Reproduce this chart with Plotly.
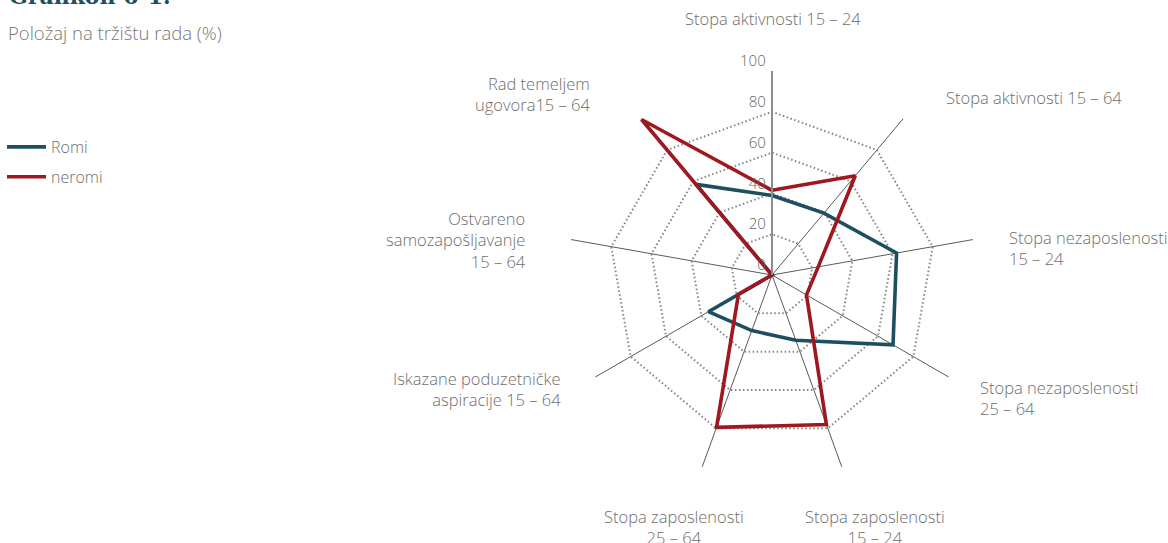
import plotly.graph_objects as go

categories = [
    "Stopa aktivnosti 15 – 24",
    "Stopa aktivnosti 15 – 64",
    "Stopa nezaposlenosti 15 – 24",
    "Stopa nezaposlenosti 25 – 64",
    "Stopa zaposlenosti 15 – 24",
    "Stopa zaposlenosti 25 – 64",
    "Iskazane poduzetničke aspiracije 15 – 64",
    "Ostvareno samozapošljavanje 15 – 64",
    "Rad temeljem ugovora15 – 64",
]
category_labels = [
    "Stopa aktivnosti 15 – 24",
    "Stopa aktivnosti 15 – 64",
    "Stopa nezaposlenosti<br>15 – 24",
    "Stopa nezaposlenosti<br>25 – 64",
    "Stopa zaposlenosti<br>15 – 24",
    "Stopa zaposlenosti<br>25 – 64",
    "Iskazane poduzetničke<br>aspiracije 15 – 64",
    "Ostvareno<br>samozapošljavanje<br>15 – 64",
    "Rad temeljem<br>ugovora15 – 64",
]
romi = [39, 39.6, 62, 68.5, 34, 29, 36, 0, 58]
neromi = [41.5, 63.5, 23, 19.5, 78, 79.5, 19, 0, 99.5]
radial_ticks = [0, 20, 40, 60, 80, 100]

# label placement (pixel offsets from the chart centre, anchor side)
label_place = [
    (1, -256, "center"),
    (172, -177, "left"),
    (235, -26, "left"),
    (206, 124, "left"),
    (103, 253, "center"),
    (-98, 253, "center"),
    (-209, 115, "right"),
    (-244, -34, "right"),
    (-180, -180, "right"),
]

W, H = 1168, 543
TEAL = "#1d4f60"
RED = "#a0181f"
GRAY_TXT = "#6d6d6d"

# polar domain in pixels
DX0, DX1 = 568, 976
DY0, DY1 = 71, 479  # from top
CX = (DX0 + DX1) / 2
CY = (DY0 + DY1) / 2 - 1

fig = go.Figure()
for name, vals, col in [("Romi", romi, TEAL), ("neromi", neromi, RED)]:
    fig.add_trace(go.Scatterpolar(
        r=vals + vals[:1],
        theta=categories + categories[:1],
        mode="lines",
        name=name,
        legendgroup=name,
        line=dict(color=col, width=3.6),
        hoverinfo="skip",
    ))

fig.update_layout(
    width=W, height=H,
    margin=dict(l=0, r=0, t=0, b=0),
    paper_bgcolor="white",
    plot_bgcolor="white",
    font=dict(family="Open Sans", size=16.5, color=GRAY_TXT, weight=300),
    polar=dict(
        domain=dict(x=[DX0 / W, DX1 / W], y=[(H - DY1) / H, (H - DY0) / H]),
        bgcolor="white",
        gridshape="linear",
        angularaxis=dict(
            direction="clockwise",
            rotation=90,
            showline=False,
            gridcolor="#5a5a5a",
            gridwidth=1,
            showticklabels=False,
            ticks="",
        ),
        radialaxis=dict(
            range=[0, 100],
            tickmode="array",
            tickvals=radial_ticks,
            ticktext=[f"{v}<br>\u00a0" for v in radial_ticks],
            angle=90,
            side="counterclockwise",
            tickangle=90,
            showline=True,
            linecolor="#8c8c8c",
            linewidth=2,
            gridcolor="#858585",
            griddash="1.5px,2.5px",
            gridwidth=1.5,
            ticks="",
            tickfont=dict(family="Open Sans", size=15, color="#666666"),
        ),
    ),
    legend=dict(
        x=2 / W, xanchor="left",
        y=1 - 130 / H, yanchor="top",
        font=dict(family="Open Sans", size=16, color=GRAY_TXT, weight=300),
        tracegroupgap=6,
        itemwidth=39,
        bgcolor="rgba(0,0,0,0)",
    ),
    showlegend=True,
)

for text, (dx, dy, side) in zip(category_labels, label_place):
    fig.add_annotation(
        text=text,
        xref="paper", yref="paper",
        x=(CX + dx) / W, y=1 - (CY + dy) / H,
        xanchor=side, yanchor="middle", align=side,
        showarrow=False,
        font=dict(family="Open Sans", size=16.5, color=GRAY_TXT, weight=300),
    )

fig.add_annotation(
    text="<b>Grafikon 6-1.</b>",
    xref="paper", yref="paper", x=0.006, y=1 - 11 / H,
    xanchor="left", yanchor="bottom", showarrow=False,
    font=dict(family="DejaVu Serif", size=22, color=TEAL),
)
fig.add_annotation(
    text="Položaj na tržištu rada (%)",
    xref="paper", yref="paper", x=0.005, y=1 - 33 / H,
    xanchor="left", yanchor="middle", showarrow=False,
    font=dict(family="Open Sans", size=18.5, color="#777777", weight=300),
)

fig.write_html(
    "out.html",
    config={"displayModeBar": False},
    post_script="document.body.style.margin='0';",
)
